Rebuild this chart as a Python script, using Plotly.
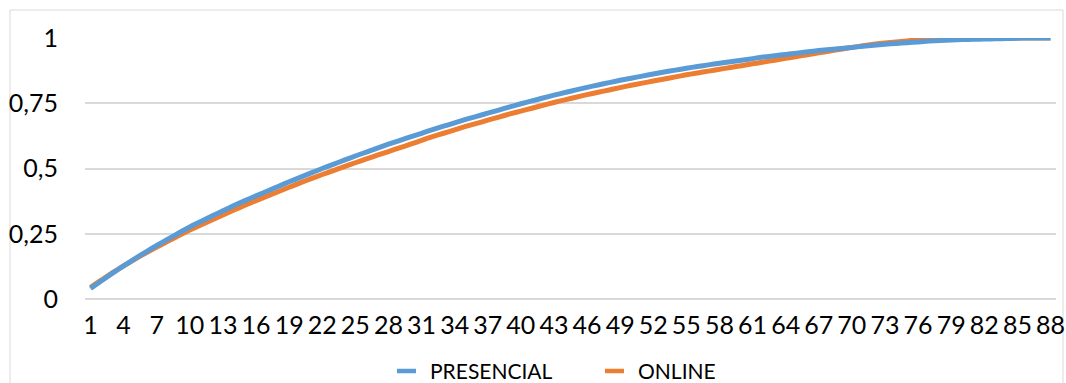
import plotly.graph_objects as go

# Categories 1..88 on the x axis
categories = [str(i) for i in range(1, 89)]

# Cumulative proportion, face-to-face group
presencial = [
    0.040, 0.070, 0.099, 0.127, 0.154, 0.180, 0.205, 0.229, 0.253, 0.276,
    0.297, 0.318, 0.338, 0.358, 0.377, 0.395, 0.413, 0.431, 0.449, 0.466,
    0.483, 0.500, 0.516, 0.532, 0.548, 0.563, 0.578, 0.593, 0.607, 0.621,
    0.635, 0.649, 0.662, 0.675, 0.688, 0.700, 0.712, 0.724, 0.736, 0.748,
    0.759, 0.770, 0.781, 0.791, 0.801, 0.811, 0.820, 0.829, 0.838, 0.846,
    0.854, 0.862, 0.870, 0.877, 0.884, 0.891, 0.897, 0.903, 0.909, 0.915,
    0.921, 0.927, 0.932, 0.937, 0.942, 0.947, 0.952, 0.956, 0.960, 0.964,
    0.968, 0.972, 0.976, 0.979, 0.982, 0.985, 0.988, 0.990, 0.992, 0.994,
    0.995, 0.996, 0.997, 0.998, 0.999, 1.000, 1.000, 1.000,
]

# Cumulative proportion, online group
online = [
    0.045, 0.073, 0.101, 0.127, 0.152, 0.176, 0.199, 0.221, 0.243, 0.264,
    0.284, 0.303, 0.322, 0.341, 0.359, 0.377, 0.394, 0.411, 0.428, 0.445,
    0.461, 0.477, 0.492, 0.507, 0.522, 0.537, 0.551, 0.565, 0.579, 0.593,
    0.608, 0.622, 0.635, 0.648, 0.661, 0.673, 0.685, 0.697, 0.709, 0.720,
    0.731, 0.742, 0.753, 0.763, 0.773, 0.783, 0.792, 0.801, 0.810, 0.819,
    0.827, 0.835, 0.843, 0.851, 0.859, 0.866, 0.873, 0.880, 0.887, 0.894,
    0.901, 0.908, 0.915, 0.922, 0.929, 0.936, 0.943, 0.950, 0.957, 0.964,
    0.970, 0.976, 0.981, 0.985, 0.989, 0.993, 0.996, 0.999, 1.000, 1.000,
    1.000, 1.000, 1.000, 1.000, 1.000, 1.000, 1.000, 1.000,
]

y_tickvals = [0, 0.25, 0.5, 0.75, 1]
y_ticktext = ["0", "0,25", "0,5", "0,75", "1"]
x_tickvals = categories[::3]

# Legend entries: (label, colour)
legend_items = [("PRESENCIAL", "#5B9BD5"), ("ONLINE", "#ED7D31")]

FONT = "Lato"
GRID = "#D9D9D9"
W, H = 1066, 383
ML, MR, MT, MB = 85, 10, 38, 84

fig = go.Figure()
fig.add_trace(go.Scatter(
    x=categories, y=online, name="ONLINE", mode="lines",
    line=dict(color="#ED7D31", width=5, shape="spline", smoothing=0.5),
    showlegend=False,
))
fig.add_trace(go.Scatter(
    x=categories, y=presencial, name="PRESENCIAL", mode="lines",
    line=dict(color="#5B9BD5", width=5, shape="spline", smoothing=0.5),
    showlegend=False,
))

pw = W - ML - MR
ph = H - MT - MB


def px_x(p):
    return (p - ML) / pw


def px_y(p):
    return (H - MB - p) / ph


# Outer chart-area border
fig.add_shape(
    type="rect", xref="paper", yref="paper",
    x0=px_x(10), x1=px_x(1063), y0=px_y(395), y1=px_y(10),
    line=dict(color=GRID, width=1), fillcolor="rgba(0,0,0,0)", layer="below",
)

# Legend below the plot: short line sample followed by the series name
legend_x = [397, 605]
legend_y = 370
for (label, color), lx in zip(legend_items, legend_x):
    fig.add_shape(
        type="line", xref="paper", yref="paper",
        x0=px_x(lx), x1=px_x(lx + 19), y0=px_y(legend_y + 1), y1=px_y(legend_y + 1),
        line=dict(color=color, width=4.5),
    )
    fig.add_annotation(
        xref="paper", yref="paper", x=px_x(lx + 32), y=px_y(legend_y),
        xanchor="left", yanchor="middle", text=label, showarrow=False,
        borderpad=0, font=dict(family=FONT, size=21, color="#000000"),
    )

fig.update_layout(
    width=W, height=H,
    margin=dict(l=ML, r=MR, t=MT, b=MB),
    paper_bgcolor="white", plot_bgcolor="white",
    font=dict(family=FONT, size=25, color="#000000"),
    showlegend=False,
    xaxis=dict(
        type="category", range=[-0.5, 87.5], automargin=False,
        tickmode="array", tickvals=x_tickvals, ticktext=x_tickvals,
        showgrid=False, showline=False, zeroline=False, ticks="",
        tickfont=dict(family=FONT, size=25, color="#000000"),
        ticklabelstandoff=9,
    ),
    yaxis=dict(
        range=[0, 1], automargin=False,
        tickmode="array", tickvals=y_tickvals, ticktext=y_ticktext,
        showgrid=True, gridcolor=GRID, gridwidth=1.5,
        zeroline=True, zerolinecolor=GRID, zerolinewidth=1.5,
        showline=False, ticks="",
        tickfont=dict(family=FONT, size=25, color="#000000"),
        ticklabelstandoff=26,
    ),
)

fig.write_html("out.html")
